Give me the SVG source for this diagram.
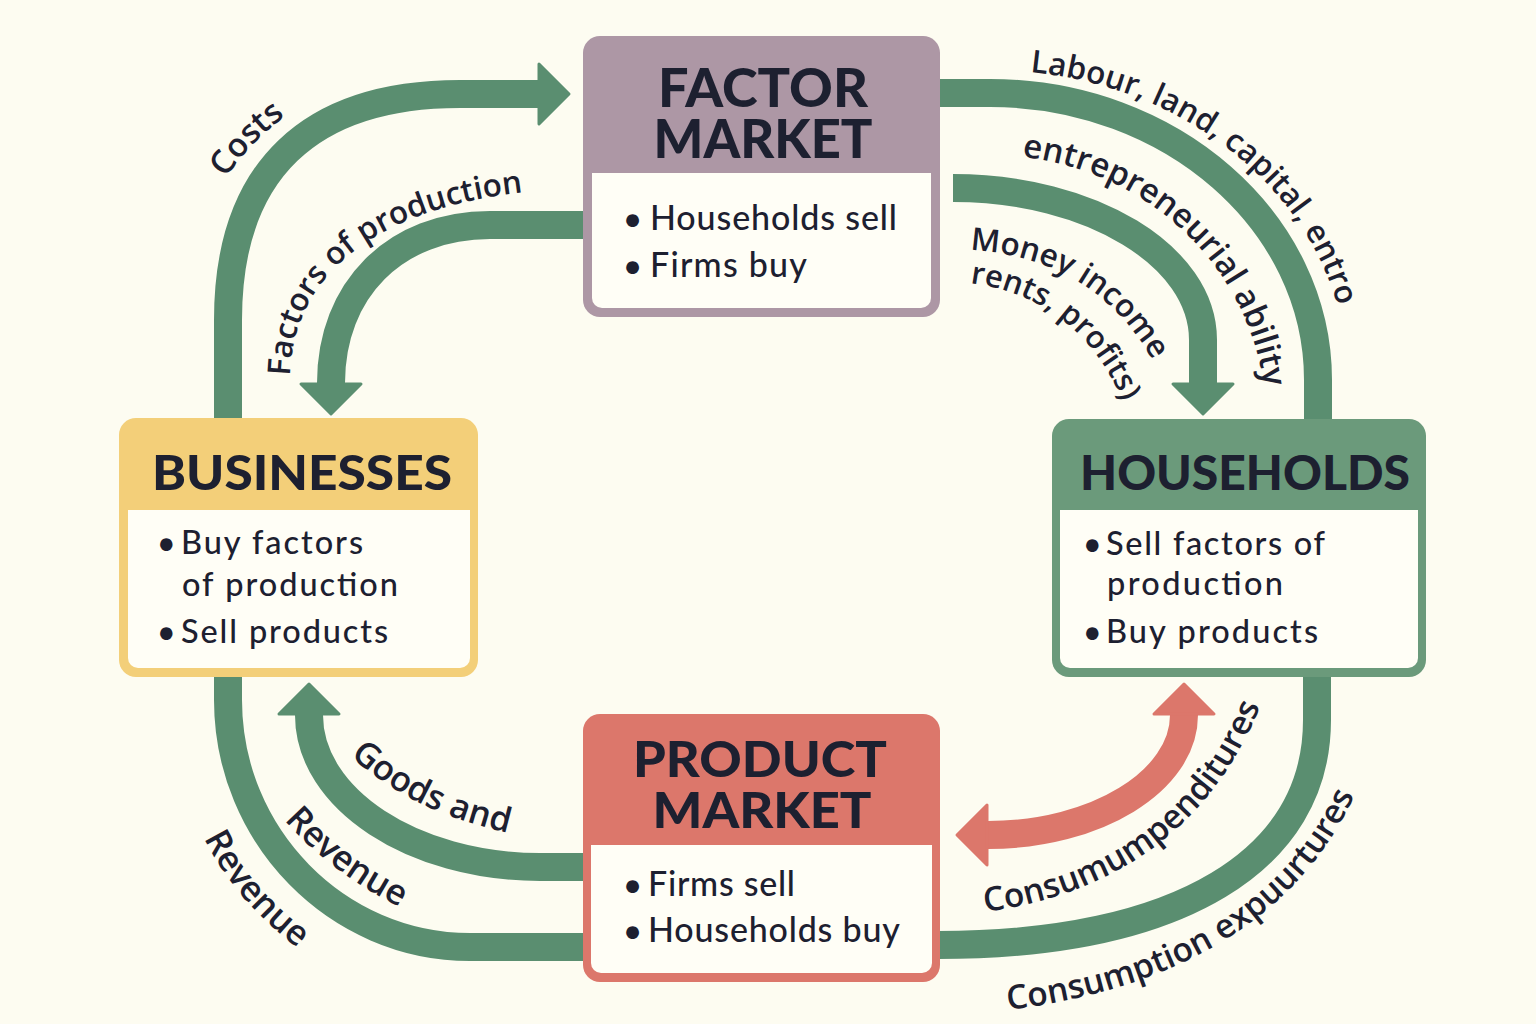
<svg xmlns="http://www.w3.org/2000/svg" width="1536" height="1024" viewBox="0 0 1536 1024">
  <style>
    .title { font-family: Lato, "Open Sans", "Liberation Sans", sans-serif; font-weight: 900; fill: #1D2030; text-anchor: middle; }
    .body { font-family: Lato, "Open Sans", "Liberation Sans", sans-serif; font-weight: 500; fill: #1D2030; }
    .lbl { font-family: "Open Sans", Lato, "Liberation Sans", sans-serif; font-weight: 600; fill: #1D2030; }
    .shaft { fill: none; stroke-width: 28; stroke-linecap: butt; }
    .g { stroke: #5A8E70; }
    .p { stroke: #DC776B; }
    .inner { fill: #FFFEF6; }
  </style>
  <defs>
    <marker id="ah-green" viewBox="0 0 34 64" refX="1" refY="32" markerWidth="34" markerHeight="64" markerUnits="userSpaceOnUse" orient="auto-start-reverse" overflow="visible">
      <path d="M2,2 L32,32 L2,62 Z" fill="#5A8E70" stroke="#5A8E70" stroke-width="3" stroke-linejoin="round"/>
    </marker>
    <marker id="ah-pink" viewBox="0 0 34 64" refX="1" refY="32" markerWidth="34" markerHeight="64" markerUnits="userSpaceOnUse" orient="auto-start-reverse" overflow="visible">
      <path d="M2,2 L32,32 L2,62 Z" fill="#DC776B" stroke="#DC776B" stroke-width="3" stroke-linejoin="round"/>
    </marker>
    <path id="lp-costs" d="M226,178 Q252,138 302,104"/>
    <path id="lp-fop" d="M290,376 C292,285 362,205 545,190"/>
    <path id="lp-labour" d="M1030,72 A358,310 0 0 1 1348,380"/>
    <path id="lp-entre" d="M1022,157 A275,265 0 0 1 1266,415"/>
    <path id="lp-money" d="M970,250 C1060,255 1130,300 1168,392"/>
    <path id="lp-rents" d="M970,283 C1040,292 1098,332 1128,415"/>
    <path id="lp-goods" d="M350,756 C400,800 450,822 540,840"/>
    <path id="lp-rev1" d="M284,820 C320,860 360,890 430,922"/>
    <path id="lp-rev2" d="M204,838 C225,880 255,920 330,972"/>
    <path id="lp-cons1" d="M985,912 C1110,895 1220,830 1270,680"/>
    <path id="lp-cons2" d="M1008,1010 C1170,990 1310,920 1365,770"/>
  </defs>

  <rect x="0" y="0" width="1536" height="1024" fill="#FDFCF1"/>

  <g id="connectors">
    <path class="shaft g" d="M228,422 V320 C228,170 310,94 460,94 H538" marker-end="url(#ah-green)"/>
    <path class="shaft g" d="M585,225 H490 C395,225 331,290 331,383" marker-end="url(#ah-green)"/>
    <path class="shaft g" d="M938,93 H990 C1171,93 1318,222 1318,380 V422"/>
    <path class="shaft g" d="M953,188 C1091,188 1203,256 1203,340 V383" marker-end="url(#ah-green)"/>
    <path class="shaft g" d="M585,947 H470 C337,947 228,836 228,700 V674"/>
    <path class="shaft g" d="M585,867 H540 C413,867 309,799 309,715" marker-end="url(#ah-green)"/>
    <path class="shaft g" d="M938,945 C1180,945 1317,860 1317,720 V674"/>
    <path class="shaft p" d="M988,835 C1096,835 1184,781 1184,715" marker-start="url(#ah-pink)" marker-end="url(#ah-pink)"/>
  </g>

  <g id="labels">
    <text class="lbl" font-size="33"><textPath href="#lp-costs">Costs</textPath></text>
    <text class="lbl" font-size="31.5"><textPath href="#lp-fop">Factors of production</textPath></text>
    <text class="lbl" font-size="31.5"><textPath href="#lp-labour">Labour, land, capital, entro</textPath></text>
    <text class="lbl" font-size="33"><textPath href="#lp-entre">entrepreneurial ability</textPath></text>
    <text class="lbl" font-size="31.5"><textPath href="#lp-money">Money income</textPath></text>
    <text class="lbl" font-size="31"><textPath href="#lp-rents">rents, profits)</textPath></text>
    <text class="lbl" font-size="34.5"><textPath href="#lp-goods">Goods and</textPath></text>
    <text class="lbl" font-size="35"><textPath href="#lp-rev1">Revenue</textPath></text>
    <text class="lbl" font-size="35"><textPath href="#lp-rev2">Revenue</textPath></text>
    <text class="lbl" font-size="33.5"><textPath href="#lp-cons1">Consumumpenditures</textPath></text>
    <text class="lbl" font-size="33.5"><textPath href="#lp-cons2">Consumption expuurtures</textPath></text>
  </g>

  <g id="factor-market">
    <rect x="583" y="36" width="357" height="281" rx="17" fill="#AD97A5"/>
    <rect class="inner" x="592" y="173" width="339" height="135" rx="10"/>
    <rect class="inner" x="592" y="173" width="339" height="20"/>
    <text class="title" x="763" y="107" font-size="53" textLength="210" lengthAdjust="spacingAndGlyphs">FACTOR</text>
    <text class="title" x="763" y="158" font-size="53" textLength="219" lengthAdjust="spacingAndGlyphs">MARKET</text>
    <text class="body" x="623" y="230" font-size="33">•</text>
    <text class="body" x="650" y="230" font-size="34" textLength="247" lengthAdjust="spacing">Households sell</text>
    <text class="body" x="623" y="277" font-size="33">•</text>
    <text class="body" x="650" y="277" font-size="34" textLength="157" lengthAdjust="spacing">Firms buy</text>
  </g>

  <g id="businesses">
    <rect x="119" y="418" width="359" height="259" rx="17" fill="#F3CF79"/>
    <rect class="inner" x="128" y="510" width="342" height="158" rx="10"/>
    <rect class="inner" x="128" y="510" width="342" height="20"/>
    <text class="title" x="302" y="490" font-size="47" textLength="300" lengthAdjust="spacingAndGlyphs">BUSINESSES</text>
    <text class="body" x="157" y="554" font-size="32">•</text>
    <text class="body" x="181" y="554" font-size="32.5" textLength="182" lengthAdjust="spacing">Buy factors</text>
    <text class="body" x="182" y="596" font-size="32.5" textLength="216" lengthAdjust="spacing">of production</text>
    <text class="body" x="157" y="643" font-size="32">•</text>
    <text class="body" x="181" y="643" font-size="32.5" textLength="207" lengthAdjust="spacing">Sell products</text>
  </g>

  <g id="households">
    <rect x="1052" y="419" width="374" height="258" rx="17" fill="#6B9A7B"/>
    <rect class="inner" x="1060" y="510" width="358" height="158" rx="10"/>
    <rect class="inner" x="1060" y="510" width="358" height="20"/>
    <text class="title" x="1245" y="490" font-size="48" textLength="330" lengthAdjust="spacingAndGlyphs">HOUSEHOLDS</text>
    <text class="body" x="1083" y="555" font-size="32">•</text>
    <text class="body" x="1106" y="555" font-size="32.5" textLength="219" lengthAdjust="spacing">Sell factors of</text>
    <text class="body" x="1107" y="595" font-size="32.5" textLength="176" lengthAdjust="spacing">production</text>
    <text class="body" x="1083" y="643" font-size="32">•</text>
    <text class="body" x="1106" y="643" font-size="32.5" textLength="212" lengthAdjust="spacing">Buy products</text>
  </g>

  <g id="product-market">
    <rect x="583" y="714" width="357" height="268" rx="17" fill="#DC776B"/>
    <rect class="inner" x="591" y="845" width="341" height="128" rx="10"/>
    <rect class="inner" x="591" y="845" width="341" height="20"/>
    <text class="title" x="760" y="777" font-size="49" textLength="254" lengthAdjust="spacingAndGlyphs">PRODUCT</text>
    <text class="title" x="762" y="828" font-size="49" textLength="219" lengthAdjust="spacingAndGlyphs">MARKET</text>
    <text class="body" x="623" y="896" font-size="33">•</text>
    <text class="body" x="648" y="896" font-size="34" textLength="147" lengthAdjust="spacing">Firms sell</text>
    <text class="body" x="623" y="942" font-size="33">•</text>
    <text class="body" x="648" y="942" font-size="34" textLength="252" lengthAdjust="spacing">Households buy</text>
  </g>
</svg>
